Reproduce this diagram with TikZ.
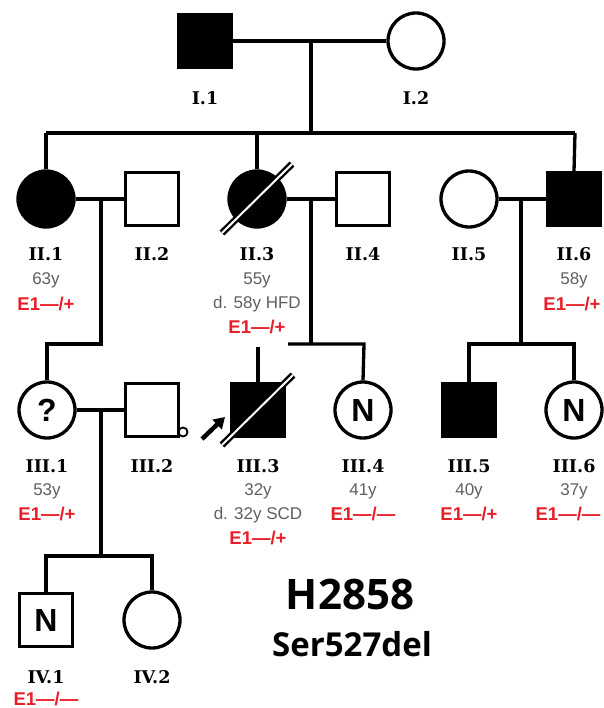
\documentclass[tikz,border=0pt]{standalone}
\usepackage{fontspec}
\setmainfont{Liberation Sans}
\newfontfamily\lblfont{DejaVu Serif}
\newfontfamily\bigfont{Open Sans}
\usetikzlibrary{arrows.meta}
\definecolor{agegray}{RGB}{95,95,95}
\definecolor{gred}{RGB}{232,30,40}
\tikzset{
  sym/.style={draw, line width=3.3pt, inner sep=0pt},
  sq/.style={sym, rectangle, minimum width=53pt, minimum height=53pt},
  ci/.style={sym, circle, minimum size=56pt},
  aff/.style={fill=black},
  ln/.style={line width=3.3pt},
  lbl/.style={font=\lblfont\bfseries\fontsize{17.5}{18}\selectfont, inner sep=0pt},
  agetxt/.style={text=agegray, font=\fontsize{17}{18}\selectfont, inner sep=0pt},
  gtxt/.style={text=gred, font=\bfseries\fontsize{18.5}{19}\selectfont, inner sep=0pt},
  symtxt/.style={font=\bfseries\fontsize{32}{32}\selectfont},
  slashb/.style={line width=6.8pt},
  slashw/.style={white, line width=2pt},
}
\begin{document}
\begin{tikzpicture}[x=1pt, y=-1pt]
\path[use as bounding box] (0,0) rectangle (603,708);

% Generation I
\node[sq, aff] (I1) at (205,41) {};
\node[ci] (I2) at (416,41) {};
\node[lbl] (lI1) at (205,98) {I.1};
\node[lbl] (lI2) at (416,98) {I.2};

% Generation II
\node[ci, aff] (II1) at (46,199) {};
\node[sq] (II2) at (152,199) {};
\node[ci, aff] (II3) at (257,199) {};
\node[sq] (II4) at (363,199) {};
\node[ci] (II5) at (469,199) {};
\node[sq, aff] (II6) at (574,199) {};

\node[lbl] (lII1) at (46,254) {II.1};
\node[lbl] (lII2) at (152,254) {II.2};
\node[lbl] (lII3) at (257,254) {II.3};
\node[lbl] (lII4) at (363,254) {II.4};
\node[lbl] (lII5) at (469,254) {II.5};
\node[lbl] (lII6) at (574,254) {II.6};
\node[agetxt] (aII1) at (46,280) {63y};
\node[agetxt] (aII3) at (257,280) {55y};
\node[agetxt] (dII3) at (257,304) {d. 58y HFD};
\node[agetxt] (aII6) at (574,280) {58y};
\node[gtxt] (gII1) at (46,304) {E1—/+};
\node[gtxt] (gII3) at (257,327) {E1—/+};
\node[gtxt] (gII6) at (572,304) {E1—/+};

% Generation III
\node[ci] (III1) at (47,410) {};
\node[symtxt] (qIII1) at (III1) {?};
\node[sq] (III2) at (152,410) {};
\node[sq, aff] (III3) at (258,410) {};
\node[ci] (III4) at (363,410) {};
\node[symtxt] (nIII4) at (III4) {N};
\node[sq, aff] (III5) at (469,410) {};
\node[ci] (III6) at (574,410) {};
\node[symtxt] (nIII6) at (III6) {N};

\node[lbl] (lIII1) at (47,466) {III.1};
\node[lbl] (lIII2) at (152,466) {III.2};
\node[lbl] (lIII3) at (258,466) {III.3};
\node[lbl] (lIII4) at (363,466) {III.4};
\node[lbl] (lIII5) at (469,466) {III.5};
\node[lbl] (lIII6) at (574,466) {III.6};
\node[agetxt] (aIII1) at (47,491) {53y};
\node[agetxt] (aIII3) at (258,491) {32y};
\node[agetxt] (dIII3) at (258,515) {d. 32y SCD};
\node[agetxt] (aIII4) at (363,491) {41y};
\node[agetxt] (aIII5) at (469,491) {40y};
\node[agetxt] (aIII6) at (574,491) {37y};
\node[gtxt] (gIII1) at (47,514) {E1—/+};
\node[gtxt] (gIII3) at (258,538) {E1—/+};
\node[gtxt] (gIII4) at (363,514) {E1—/—};
\node[gtxt] (gIII5) at (469,514) {E1—/+};
\node[gtxt] (gIII6) at (568,514) {E1—/—};

% Generation IV
\node[sq] (IV1) at (46,620) {};
\node[symtxt] (nIV1) at (IV1) {N};
\node[ci] (IV2) at (152,620) {};
\node[lbl] (lIV1) at (46,677) {IV.1};
\node[lbl] (lIV2) at (152,677) {IV.2};
\node[gtxt] (gIV1) at (46,699) {E1—/—};

% Title
\node[font=\bigfont\bfseries\fontsize{42}{42}\selectfont, inner sep=0pt] (t1) at (350,594) {H2858};
\node[font=\bigfont\bfseries\fontsize{33}{33}\selectfont, inner sep=0pt] (t2) at (352,644) {Ser527del};

% Coordinates
\coordinate (mI) at (311,41);
\coordinate (sI) at (311,133);
\coordinate (sIL) at (46,133);
\coordinate (sIR) at (575,133);
\coordinate (sI3) at (257,133);
\coordinate (m1) at (101,199);
\coordinate (m1b) at (101,344);
\coordinate (m1c) at (47,344);
\coordinate (m2) at (311,199);
\coordinate (m2b) at (311,344);
\coordinate (m2l) at (288,344);
\coordinate (m2r) at (364,344);
\coordinate (c3) at (258,347);
\coordinate (m3) at (521,199);
\coordinate (m3b) at (521,344);
\coordinate (m3l) at (469,344);
\coordinate (m3r) at (574,344);
\coordinate (m4) at (101,410);
\coordinate (m4b) at (101,556);
\coordinate (m4l) at (46,556);
\coordinate (m4r) at (152,556);

% Connectors
\draw[ln] (I1.east) -- (I2.west);
\draw[ln] (mI) -- (sI);
\draw[ln] (sIL) -- (sIR);
\draw[ln] (sIL) -- (II1.north);
\draw[ln] (sI3) -- (II3.north);
\draw[ln] (sIR) -- (II6.north);

\draw[ln] (II1.east) -- (II2.west);
\draw[ln] (m1) -- (m1b) -- (m1c) -- (III1.north);
\draw[ln] (II3.east) -- (II4.west);
\draw[ln] (m2) -- (m2b);
\draw[ln] (m2l) -- (m2r) -- (III4.north);
\draw[ln] (c3) -- (III3.north);
\draw[ln] (II5.east) -- (II6.west);
\draw[ln] (m3) -- (m3b);
\draw[ln] (III5.north) -- (m3l) -- (m3r) -- (III6.north);

\draw[ln] (III1.east) -- (III2.west);
\draw[ln] (m4) -- (m4b);
\draw[ln] (IV1.north) -- (m4l) -- (m4r) -- (IV2.north);

% Deceased slashes
\coordinate (d1a) at (222,233);
\coordinate (d1b) at (292,164);
\draw[slashb] (d1a) -- (d1b);
\draw[slashw] (d1a) -- (d1b);
\coordinate (d2a) at (222,445);
\coordinate (d2b) at (293,375);
\draw[slashb] (d2a) -- (d2b);
\draw[slashw] (d2a) -- (d2b);

% Proband arrow
\coordinate (pa) at (202,439);
\coordinate (pb) at (225,417);
\draw[line width=4.5pt, -{Triangle[length=11pt, width=13pt]}] (pa) -- (pb);

% small loop at III.2
\draw[line width=1.8pt] (183,432) circle (4.5);
\end{tikzpicture}
\end{document}
